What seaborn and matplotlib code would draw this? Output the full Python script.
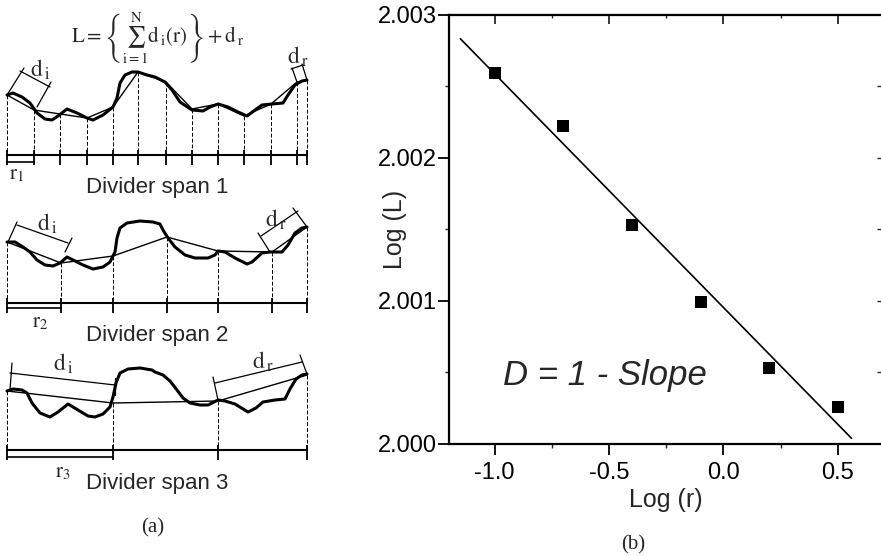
import matplotlib
matplotlib.use("Agg")
import matplotlib.pyplot as plt
import seaborn as sns
from matplotlib.ticker import AutoMinorLocator, FormatStrFormatter

# %%
# (b) divider length vs divider span, log-log
log_r = [-1.0, -0.7, -0.4, -0.1, 0.2, 0.5]
log_L = [2.00259, 2.00222, 2.00153, 2.00099, 2.00053, 2.00026]
fit_x = [-1.15, 0.56]
fit_y = [2.00283, 2.00004]

# %%
# (a) profile traces, picture units (x to the right, y downwards)
curve1_x = [7, 13, 22, 30, 37, 45, 52, 58, 67, 77, 87, 93, 103, 113, 117, 120, 125, 132, 138, 147,
            155, 165, 172, 180, 192, 203, 210, 218, 228, 238, 247, 255, 262, 272, 283, 288, 295, 302, 307]
curve1_y = [95, 93, 97, 103, 113, 119, 120, 116, 109, 113, 118, 120, 115, 107, 98, 83, 75, 72, 72, 75,
            77, 82, 90, 102, 110, 111, 107, 104, 107, 112, 116, 110, 105, 104, 103, 95, 85, 81, 80]
chord1_x = [7, 34, 60, 87, 113, 138, 166, 192, 218, 244, 271, 297, 307]
chord1_y = [95, 110, 114, 118, 107, 72, 82, 109, 104, 116, 104, 82, 80]

curve2_x = [7, 15, 23, 30, 37, 45, 53, 60, 67, 73, 83, 93, 103, 110, 115, 117, 120, 127, 140, 153,
            160, 163, 168, 175, 185, 195, 208, 215, 218, 225, 235, 247, 252, 262, 270, 282, 288, 295, 302, 307]
curve2_y = [242, 242, 247, 252, 260, 265, 266, 263, 257, 260, 265, 269, 267, 262, 252, 238, 228, 223, 221, 222,
            224, 230, 238, 247, 255, 258, 258, 255, 251, 252, 258, 264, 262, 253, 252, 252, 245, 233, 228, 227]
chord2_x = [7, 61, 113, 167, 218, 272, 307]
chord2_y = [242, 263, 256, 237, 251, 252, 227]

curve3_x = [7, 13, 22, 27, 32, 40, 50, 58, 68, 78, 88, 95, 103, 110, 113, 116, 120, 128, 140, 152,
            155, 163, 170, 177, 183, 190, 200, 208, 214, 218, 225, 235, 248, 256, 263, 275, 285, 290, 296, 302, 307]
curve3_y = [391, 389, 390, 393, 403, 413, 417, 412, 404, 410, 416, 417, 414, 407, 397, 383, 373, 369, 368, 370,
            372, 375, 381, 390, 398, 403, 405, 405, 402, 400, 401, 404, 412, 408, 402, 400, 399, 389, 379, 375, 374]
chord3_x = [7, 113, 218, 307]
chord3_y = [391, 403, 401, 375]

baseline_y = [155, 303, 450]
span_end = [34, 61, 113]
span_bar_y = [162, 308, 457]

# d_i / d_r brackets: (x list, y list) polylines
brackets = [
    ([7, 24], [95, 68]), ([20, 50], [71, 87]), ([51, 37], [82, 107]),
    ([297, 292], [82, 68]), ([291, 303], [69, 65]), ([302, 307], [64, 80]),
    ([8, 17], [242, 222]), ([17, 68], [225, 243]), ([72, 65], [238, 252]),
    ([258, 270], [233, 252]), ([261, 298], [236, 211]), ([293, 307], [208, 227]),
    ([12, 10], [363, 390]), ([10, 115], [373, 385]), ([115, 115], [378, 395]),
    ([213, 218], [377, 400]), ([215, 302], [383, 362]), ([300, 307], [355, 374]),
]

# %%
sns.set_style("ticks")
plt.rcParams["font.family"] = ["Liberation Sans", "DejaVu Sans"]
plt.rcParams["mathtext.fontset"] = "stix"
plt.rcParams["axes.unicode_minus"] = False

fig = plt.figure(figsize=(8.81, 5.56), dpi=100)

# %% panel (a)
ax_a = fig.add_axes([0, 0, 320 / 881, 1])
ax_a.set_xlim(0, 320)
ax_a.set_ylim(556, 0)
ax_a.axis("off")

spans = [(curve1_x, curve1_y, chord1_x, chord1_y),
         (curve2_x, curve2_y, chord2_x, chord2_y),
         (curve3_x, curve3_y, chord3_x, chord3_y)]
for i, (cx, cy, hx, hy) in enumerate(spans):
    base = baseline_y[i]
    sns.lineplot(x=cx, y=cy, sort=False, estimator=None, color="black", lw=2.2, ax=ax_a)
    sns.lineplot(x=hx, y=hy, sort=False, estimator=None, color="black", lw=1.0, ax=ax_a)
    ax_a.vlines(hx, hy, base, colors="black", lw=0.7, linestyles=(0, (4, 2)))
    ax_a.vlines(hx, base - 5, base + 10, colors="black", lw=1.3)
    ax_a.plot([hx[0], hx[-1]], [base, base], color="black", lw=1.5)
    ax_a.plot([hx[0], span_end[i]], [span_bar_y[i], span_bar_y[i]], color="black", lw=1.2)

for bx, by in brackets:
    ax_a.plot(bx, by, color="black", lw=0.9)

ax_a.text(158, 38, r"$\mathrm{L}=\left\{\sum_{\mathrm{i=1}}^{\mathrm{N}}\mathrm{d}_{\,\mathrm{i}}(\mathrm{r})\right\}+\mathrm{d}_{\,\mathrm{r}}$",
          ha="center", va="center", fontsize=15)
for k, y in enumerate([188, 335, 483]):
    ax_a.text(157, y, f"Divider span {k + 1}", ha="center", va="center", fontsize=16)
ax_a.text(17, 174, r"$\mathrm{r}_{1}$", ha="center", va="center", fontsize=15)
ax_a.text(40, 322, r"$\mathrm{r}_{2}$", ha="center", va="center", fontsize=15)
ax_a.text(63, 472, r"$\mathrm{r}_{3}$", ha="center", va="center", fontsize=15)
ax_a.text(40, 70, r"$\mathrm{d}_{\,\mathrm{i}}$", ha="center", va="center", fontsize=17)
ax_a.text(298, 57, r"$\mathrm{d}_{\,\mathrm{r}}$", ha="center", va="center", fontsize=17)
ax_a.text(47, 224, r"$\mathrm{d}_{\,\mathrm{i}}$", ha="center", va="center", fontsize=17)
ax_a.text(276, 220, r"$\mathrm{d}_{\,\mathrm{r}}$", ha="center", va="center", fontsize=17)
ax_a.text(63, 364, r"$\mathrm{d}_{\,\mathrm{i}}$", ha="center", va="center", fontsize=17)
ax_a.text(263, 362, r"$\mathrm{d}_{\,\mathrm{r}}$", ha="center", va="center", fontsize=17)
ax_a.text(153, 528, "(a)", ha="center", va="center", fontsize=15, family="Liberation Serif")

# %% panel (b)
ax = fig.add_axes([449 / 881, 1 - 444 / 556, 434.5 / 881, 429.5 / 556])
sns.lineplot(x=fit_x, y=fit_y, color="black", lw=1.2, ax=ax)
sns.scatterplot(x=log_r, y=log_L, marker="s", s=80, color="black", linewidth=0, ax=ax)
ax.set_xlim(-1.2, 0.7)
ax.set_ylim(2.000, 2.003)
ax.set_xticks([-1.0, -0.5, 0.0, 0.5])
ax.set_yticks([2.000, 2.001, 2.002, 2.003])
ax.yaxis.set_major_formatter(FormatStrFormatter("%.3f"))
ax.xaxis.set_minor_locator(AutoMinorLocator(2))
ax.yaxis.set_minor_locator(AutoMinorLocator(2))
ax.tick_params(which="both", bottom=True, left=True, top=False, right=False)
ax.tick_params(which="major", direction="out", length=8, width=1.3, labelsize=17, colors="black")
ax.tick_params(axis="y", which="major", pad=1)
ax.tick_params(axis="x", which="major", pad=5)
ax.tick_params(which="minor", direction="out", length=3, width=1.0)
for s in ax.spines.values():
    s.set_linewidth(1.6)
    s.set_color("black")

top = ax.secondary_xaxis("top")
top.set_xticks([-1.0, -0.5, 0.0, 0.5])
top.xaxis.set_minor_locator(AutoMinorLocator(2))
top.tick_params(which="both", top=True, bottom=False, labeltop=False, direction="in")
top.tick_params(which="major", length=7, width=1.3)
top.tick_params(which="minor", length=3, width=1.0)
right = ax.secondary_yaxis("right")
right.set_yticks([2.0005, 2.001, 2.0015, 2.002, 2.0025])
right.tick_params(right=True, left=False, direction="in", length=5, width=1.0, labelright=False)

ax.set_xlabel("Log (r)", fontsize=18, labelpad=3)
ax.set_ylabel("Log (L)", fontsize=18)
ax.yaxis.set_label_coords(-0.096, 0.5)
ax.text(-0.52, 2.00048, "D = 1 - Slope", fontsize=25, style="italic", ha="center", va="center")
fig.text(633 / 881, 1 - 545 / 556, "(b)", ha="center", va="center", fontsize=15, family="Liberation Serif")

plt.savefig("out.png", dpi=100)
